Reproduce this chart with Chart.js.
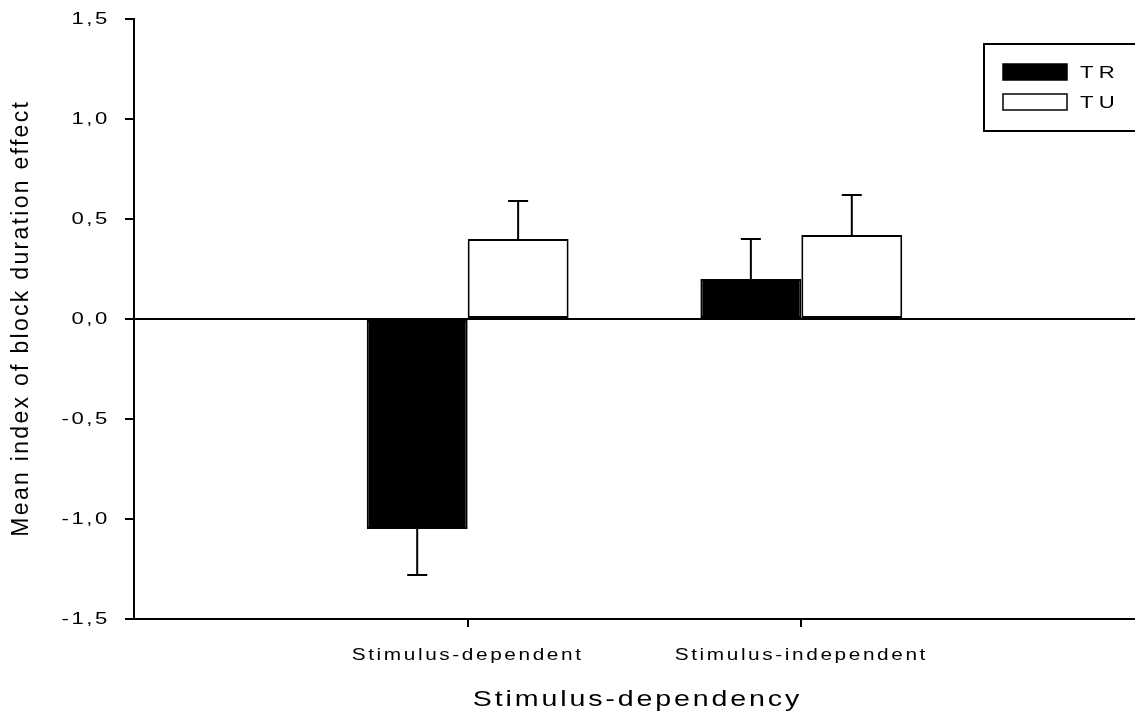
<!DOCTYPE html>
<html>
<head>
<meta charset="utf-8">
<script src="https://cdn.jsdelivr.net/npm/chart.js@4/dist/chart.umd.min.js"></script>
<style>
  html, body { margin: 0; padding: 0; background: #fff; }
  #box { width: 1135px; height: 719px; position: relative; }
</style>
</head>
<body>
<div id="box"><canvas id="chart"></canvas></div>
<script>
// categories: empty slots at both ends keep the two groups at 1/3 and 2/3 of the axis
const CATEGORIES = ['', 'Stimulus-dependent', 'Stimulus-independent', ''];
const SERIES_NAMES = ['TR', 'TU'];
const TR_VALUES = [null, -1.05, 0.2, null];
const TU_VALUES = [null, 0.40, 0.42, null];
const TR_ERRORS = [null, 0.23, 0.20, null];
const TU_ERRORS = [null, 0.19, 0.20, null];
const Y_TICKS = [-1.5, -1.0, -0.5, 0.0, 0.5, 1.0, 1.5];
const X_TITLE = 'Stimulus-dependency';
const Y_TITLE = 'Mean index of block duration effect';

const FONT = '"Liberation Sans", Arial, sans-serif';
const STRETCH = 1.3;   // the original export has widened, spaced-out glyphs

function commaLabel (value)
{
   return value.toFixed (1).replace ('.', ',');
}

// every text drawn on the chart canvas gets widened horizontally
const wideText = {
   id: 'wideText',
   beforeInit (chart)
   {
      let ctx = chart.ctx, fill = ctx.fillText.bind (ctx);
      ctx.fillText = function (text, x, y, maxWidth)
      {
         ctx.save ();
         ctx.translate (x, y);
         ctx.scale (STRETCH, 1);
         if (maxWidth === undefined) fill (text, 0, 0);
         else fill (text, 0, 0, maxWidth / STRETCH);
         ctx.restore ();
      };
   },
   beforeDraw (chart) { chart.ctx.letterSpacing = '2px'; }
};

const errorBars = {
   id: 'errorBars',
   afterDatasetsDraw (chart)
   {
      let ctx = chart.ctx, y = chart.scales.y;
      ctx.save ();
      ctx.strokeStyle = '#000';
      ctx.lineWidth = 2;
      chart.data.datasets.forEach ((ds, i) => {
         let meta = chart.getDatasetMeta (i);
         meta.data.forEach ((bar, n) => {
            let v = ds.data [n], e = ds.errors [n];
            if (v == null || e == null) return;
            let end = v < 0 ? v - e : v + e;
            let y0 = y.getPixelForValue (v), y1 = y.getPixelForValue (end);
            ctx.beginPath ();
            ctx.moveTo (bar.x, y0);
            ctx.lineTo (bar.x, y1);
            ctx.moveTo (bar.x - 10, y1);
            ctx.lineTo (bar.x + 10, y1);
            ctx.stroke ();
         });
      });
      ctx.restore ();
   }
};

const titles = {
   id: 'titles',
   afterDraw (chart)
   {
      let ctx = chart.ctx, area = chart.chartArea;
      ctx.save ();
      ctx.fillStyle = '#000';
      ctx.textAlign = 'center';
      ctx.textBaseline = 'middle';

      ctx.font = '22px ' + FONT;
      ctx.letterSpacing = '2.2px';
      ctx.fillText (X_TITLE, (area.left + area.right) / 2 + 3, 700);

      // rotated title keeps normal glyph proportions
      ctx.translate (22, (area.top + area.bottom) / 2);
      ctx.rotate (-Math.PI / 2);
      ctx.scale (1 / STRETCH, 1);
      ctx.font = '23px ' + FONT;
      ctx.letterSpacing = '2.3px';
      ctx.fillText (Y_TITLE, 1, 0);
      ctx.restore ();
   }
};

const boxLegend = {
   id: 'boxLegend',
   afterDraw (chart)
   {
      let ctx = chart.ctx;
      ctx.save ();
      ctx.strokeStyle = '#000';
      ctx.lineWidth = 2;
      ctx.strokeRect (984, 44, 160, 87);

      ctx.font = '17px ' + FONT;
      ctx.letterSpacing = '4px';
      ctx.textBaseline = 'middle';
      chart.data.datasets.forEach ((ds, i) => {
         let top = 64 + i * 30;
         ctx.fillStyle = ds.backgroundColor;
         ctx.fillRect (1003, top, 64, 16);
         ctx.lineWidth = 1.5;
         ctx.strokeRect (1003, top, 64, 16);
         ctx.fillStyle = '#000';
         ctx.fillText (ds.label, 1080, top + 9);
      });
      ctx.restore ();
   }
};

let ctx = document.getElementById ('chart');
let chart = new Chart (ctx, {
   type: 'bar',
   data:
   {
      labels: CATEGORIES,
      datasets:
      [{
         label: SERIES_NAMES [0],
         data: TR_VALUES,
         errors: TR_ERRORS,
         backgroundColor: '#000000',
         borderColor: '#000000',
         borderWidth: 2,
         borderSkipped: false
      },
      {
         label: SERIES_NAMES [1],
         data: TU_VALUES,
         errors: TU_ERRORS,
         backgroundColor: '#ffffff',
         borderColor: '#000000',
         borderWidth: 2,
         borderSkipped: false
      }]
   },
   options:
   {
      responsive: true,
      maintainAspectRatio: false,
      animation: false,
      categoryPercentage: 0.605,
      barPercentage: 1.0,
      layout: { padding: { top: 19, right: 0, bottom: 0, left: 0 } },
      plugins:
      {
         legend: { display: false },
         tooltip: { enabled: false }
      },
      scales:
      {
         x:
         {
            offset: false,
            grid:
            {
               offset: false,
               drawOnChartArea: false,
               tickLength: 8,
               lineWidth: 2,
               tickColor: (c) => (c.index === 1 || c.index === 2) ? '#000' : 'rgba(0,0,0,0)'
            },
            border: { display: true, color: '#000', width: 2 },
            ticks:
            {
               color: '#000',
               font: { family: FONT, size: 16 },
               padding: 19,
               maxRotation: 0,
               autoSkip: false
            },
            afterFit: (scale) => {
               scale.height = 100;
               scale.paddingLeft = 0;
               scale.paddingRight = 0;
            }
         },
         y:
         {
            min: Y_TICKS [0],
            max: Y_TICKS [Y_TICKS.length - 1],
            grid:
            {
               drawOnChartArea: true,
               tickLength: 9,
               lineWidth: 2,
               color: (c) => (c.tick && c.tick.value === 0) ? '#000' : 'rgba(0,0,0,0)',
               tickColor: '#000'
            },
            border: { display: true, color: '#000', width: 2 },
            ticks:
            {
               stepSize: Y_TICKS [1] - Y_TICKS [0],
               color: '#000',
               font: { family: FONT, size: 17 },
               padding: 15,
               callback: (v) => commaLabel (v)
            },
            afterFit: (scale) => {
               scale.width = 134;
               scale.paddingTop = 0;
               scale.paddingBottom = 0;
            }
         }
      }
   },
   plugins: [wideText, errorBars, titles, boxLegend]
});
</script>
</body>
</html>
